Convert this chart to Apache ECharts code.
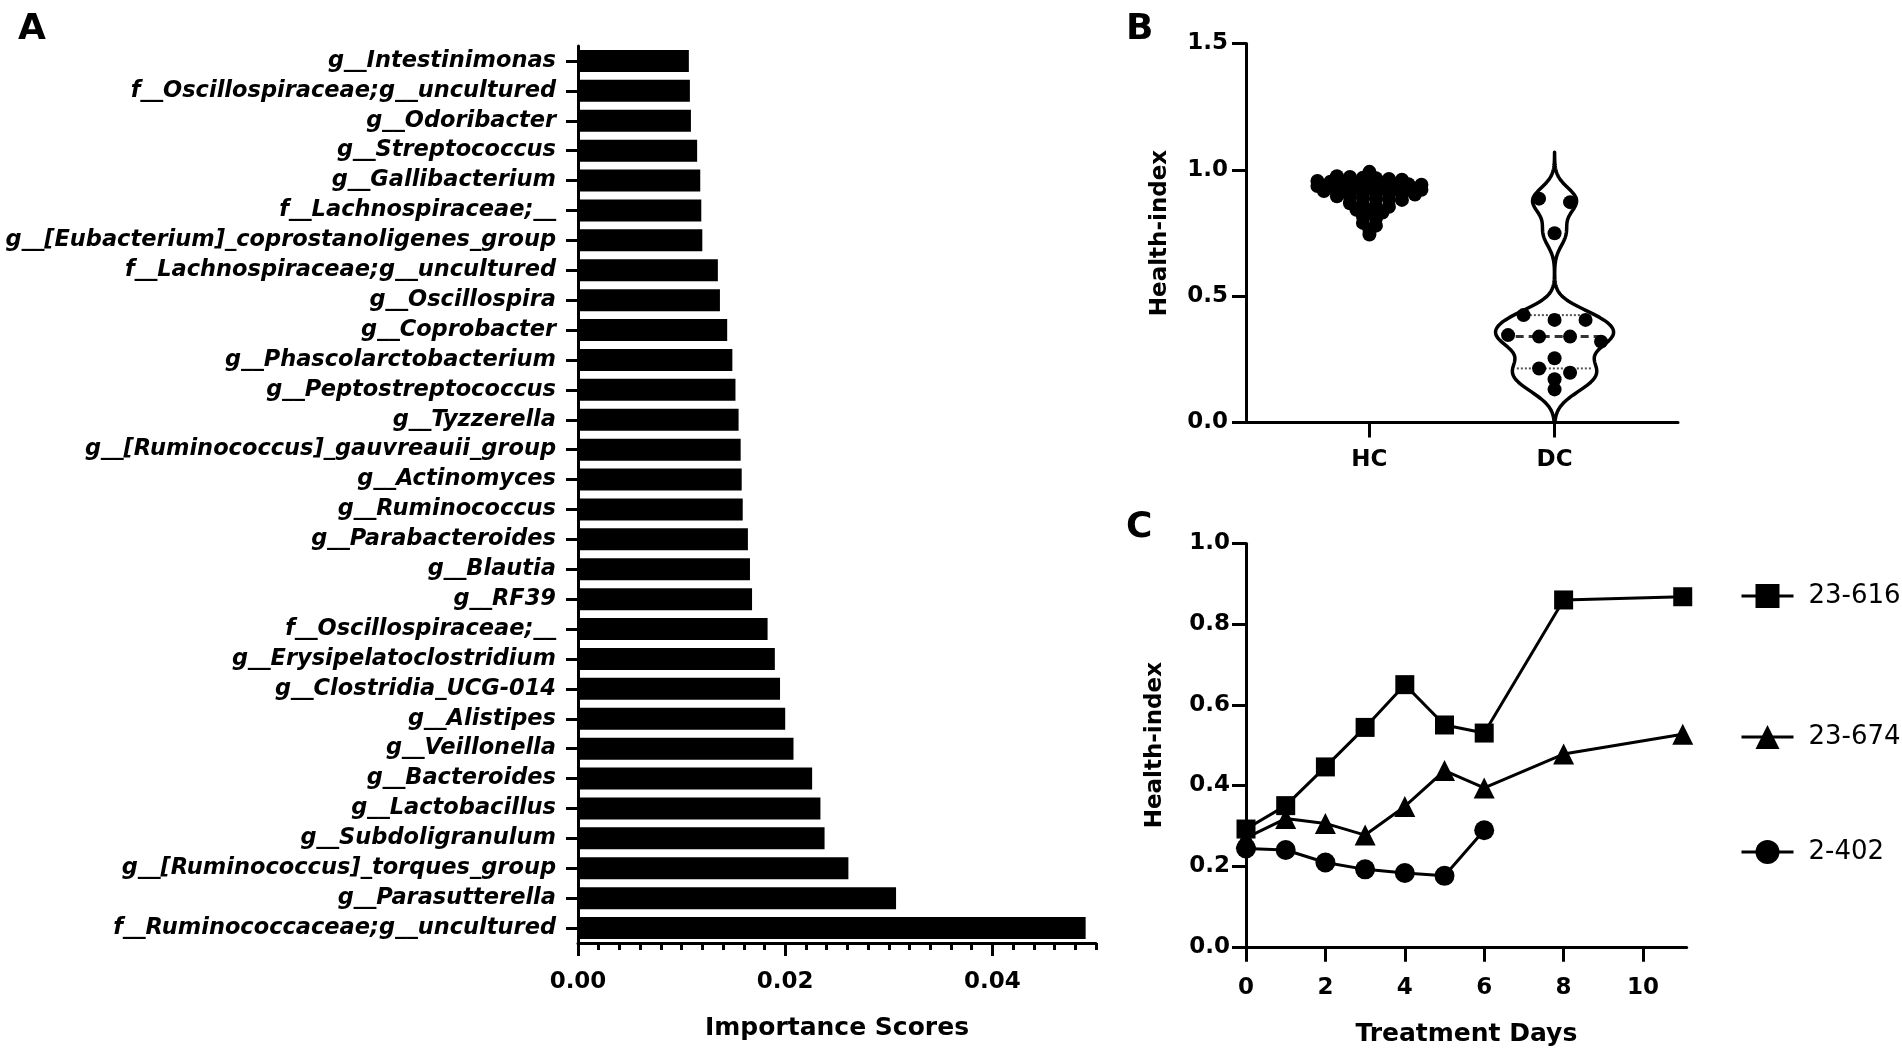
<!DOCTYPE html>
<html>
<head>
<meta charset="utf-8">
<title>Importance scores and health index</title>
<script src="https://cdn.jsdelivr.net/npm/echarts@6.0.0/dist/echarts.min.js"></script>
<style>
  html, body { margin: 0; padding: 0; background: #fff; }
  #chart { width: 1902px; height: 1055px; }
</style>
</head>
<body>
<div id="chart"></div>
<script>
// panel A - feature importance
var taxa = [
  'g__Intestinimonas',
  'f__Oscillospiraceae;g__uncultured',
  'g__Odoribacter',
  'g__Streptococcus',
  'g__Gallibacterium',
  'f__Lachnospiraceae;__',
  'g__[Eubacterium]_coprostanoligenes_group',
  'f__Lachnospiraceae;g__uncultured',
  'g__Oscillospira',
  'g__Coprobacter',
  'g__Phascolarctobacterium',
  'g__Peptostreptococcus',
  'g__Tyzzerella',
  'g__[Ruminococcus]_gauvreauii_group',
  'g__Actinomyces',
  'g__Ruminococcus',
  'g__Parabacteroides',
  'g__Blautia',
  'g__RF39',
  'f__Oscillospiraceae;__',
  'g__Erysipelatoclostridium',
  'g__Clostridia_UCG-014',
  'g__Alistipes',
  'g__Veillonella',
  'g__Bacteroides',
  'g__Lactobacillus',
  'g__Subdoligranulum',
  'g__[Ruminococcus]_torques_group',
  'g__Parasutterella',
  'f__Ruminococcaceae;g__uncultured'
];
var importance = [
  0.0107, 0.0108, 0.0109, 0.0115, 0.0118, 0.0119, 0.0120, 0.0135, 0.0137, 0.0144,
  0.0149, 0.0152, 0.0155, 0.0157, 0.0158, 0.0159, 0.0164, 0.0166, 0.0168, 0.0183,
  0.0190, 0.0195, 0.0200, 0.0208, 0.0226, 0.0234, 0.0238, 0.0261, 0.0307, 0.0490
];
var importanceLabels = [0, 0.02, 0.04];

// panel B - health index per group
var groups = ['HC', 'DC'];
var groupPos = [1, 2.5];
var hcValues = [
  0.992,
  0.975, 0.972, 0.969, 0.967, 0.964, 0.961,
  0.956, 0.953, 0.952, 0.949, 0.947, 0.946, 0.944, 0.943, 0.941,
  0.936, 0.934, 0.931, 0.930, 0.928, 0.927, 0.925, 0.923, 0.921,
  0.916, 0.914, 0.911, 0.909, 0.908, 0.905, 0.903, 0.902,
  0.895, 0.892, 0.889, 0.886, 0.883, 0.881,
  0.868, 0.863, 0.858, 0.854,
  0.842, 0.837, 0.831,
  0.815, 0.807,
  0.790, 0.779,
  0.762,
  0.744
];
var dcValues = [0.886, 0.872, 0.749, 0.425, 0.406, 0.406, 0.346, 0.340, 0.340, 0.320, 0.254, 0.214, 0.197, 0.171, 0.131];
var violinRange = [0, 1.07];

// panel C - health index over treatment
var days = [0, 1, 2, 3, 4, 5, 6, 8, 11];
var dayTicks = [0, 2, 4, 6, 8, 10];
var p23616 = [0.292, 0.350, 0.446, 0.544, 0.650, 0.550, 0.530, 0.860, 0.868];
var p23674 = [0.270, 0.318, 0.306, 0.277, 0.348, 0.437, 0.394, 0.478, 0.527];
var p2402 = [0.244, 0.240, 0.209, 0.192, 0.183, 0.176, 0.289];

var FONT = '"DejaVu Sans", sans-serif';
var gridA = {left: 578, top: 46, width: 518, height: 897};
var gridB = {left: 1246, top: 43.5, width: 432, height: 379};
var gridC = {left: 1246, top: 543.5, width: 440.7, height: 403.3};
var B_MAX_X = 3.5;
var pxPerUnitB = gridB.width / B_MAX_X;

// prism-like scatter rows: points close in value share a row, spread sideways
function swarm(values, center, binH, spacingPx) {
  var sorted = values.slice().sort(function (a, b) { return b - a; });
  var rows = [], row = null;
  sorted.forEach(function (v) {
    if (!row || row[0] - v > binH) { row = [v]; rows.push(row); }
    else row.push(v);
  });
  var out = [];
  rows.forEach(function (r) {
    r.forEach(function (v, i) {
      out.push([center + (i - (r.length - 1) / 2) * spacingPx / pxPerUnitB, v]);
    });
  });
  return out;
}

function quantile(vals, p) {
  var s = vals.slice().sort(function (a, b) { return a - b; });
  var pos = p * (s.length + 1) - 1;
  var lo = Math.floor(pos), hi = Math.ceil(pos);
  return s[lo] + (s[hi] - s[lo]) * (pos - lo);
}

// gaussian kernel density for violin outline
var BW = 0.05;
function density(y) {
  var d = 0;
  dcValues.forEach(function (v) { var z = (y - v) / BW; d += Math.exp(-0.5 * z * z); });
  return d;
}
var violinSteps = [];
for (var y = violinRange[0]; y <= violinRange[1] + 1e-9; y += 0.005) violinSteps.push(y);
var maxDens = Math.max.apply(null, violinSteps.map(density));
var VIOLIN_HALF = 59 / pxPerUnitB;
function halfWidth(y) {
  if (y <= violinRange[0] || y >= violinRange[1]) return 0;
  return density(y) / maxDens * VIOLIN_HALF;
}

var chart = echarts.init(document.getElementById('chart'));

var axisLine = {show: true, lineStyle: {color: '#000', width: 3}};
var tickStyle = {color: '#000', width: 3};
var labelStyle = {color: '#000', fontFamily: FONT, fontWeight: 'bold', fontSize: 23};
var nameStyle = {color: '#000', fontFamily: FONT, fontWeight: 'bold', fontSize: 25};

var minorTicks = [];
for (var t = 0; t <= 25; t++) minorTicks.push(+(t * 0.002).toFixed(3));

var option = {
  animation: false,
  backgroundColor: '#fff',
  graphic: [
    {type: 'text', left: 18, top: 12, style: {text: 'A', font: 'bold 36px ' + FONT, fill: '#000'}},
    {type: 'text', left: 1126, top: 12, style: {text: 'B', font: 'bold 36px ' + FONT, fill: '#000'}},
    {type: 'text', left: 1126, top: 510, style: {text: 'C', font: 'bold 36px ' + FONT, fill: '#000'}}
  ],
  grid: [gridA, gridB, gridC],
  xAxis: [
    {
      type: 'value', gridIndex: 0, min: 0, max: 0.05, interval: 0.002,
      name: 'Importance Scores', nameLocation: 'middle', nameGap: 73, nameTextStyle: nameStyle,
      axisLine: axisLine,
      axisTick: {show: true, length: 7, lineStyle: tickStyle, customValues: minorTicks},
      axisLabel: Object.assign({margin: 28, customValues: importanceLabels,
        formatter: function (v) { return v.toFixed(2); }}, labelStyle),
      splitLine: {show: false}
    },
    {
      type: 'value', gridIndex: 0, min: 0, max: 0.05, position: 'bottom', offset: 0,
      axisLine: {show: false},
      axisTick: {show: true, length: 13, lineStyle: tickStyle, customValues: importanceLabels},
      axisLabel: {show: false},
      splitLine: {show: false}
    },
    {
      type: 'value', gridIndex: 1, min: 0, max: B_MAX_X,
      axisLine: axisLine,
      axisTick: {show: true, length: 15, lineStyle: tickStyle, customValues: groupPos},
      axisLabel: Object.assign({margin: 26, customValues: groupPos,
        formatter: function (v) { return groups[groupPos.indexOf(v)] || ''; }}, labelStyle),
      splitLine: {show: false}
    },
    {
      type: 'value', gridIndex: 2, min: 0, max: 11.1,
      name: 'Treatment Days', nameLocation: 'middle', nameGap: 75, nameTextStyle: nameStyle,
      axisLine: axisLine,
      axisTick: {show: true, length: 15, lineStyle: tickStyle, customValues: dayTicks},
      axisLabel: Object.assign({margin: 30, customValues: dayTicks}, labelStyle),
      splitLine: {show: false}
    }
  ],
  yAxis: [
    {
      type: 'category', gridIndex: 0, data: taxa, inverse: true,
      axisLine: axisLine,
      axisTick: {show: true, alignWithLabel: true, length: 12, lineStyle: tickStyle},
      axisLabel: {interval: 0, margin: 22, color: '#000', fontFamily: FONT,
        fontWeight: 'bold', fontStyle: 'italic', fontSize: 22.5}
    },
    {
      type: 'value', gridIndex: 1, min: 0, max: 1.5, interval: 0.5,
      name: 'Health-index', nameLocation: 'middle', nameGap: 74,
      nameTextStyle: Object.assign({}, nameStyle, {fontSize: 23}),
      axisLine: axisLine,
      axisTick: {show: true, length: 14, lineStyle: tickStyle},
      axisLabel: Object.assign({margin: 18, formatter: function (v) { return v.toFixed(1); }}, labelStyle),
      splitLine: {show: false}
    },
    {
      type: 'value', gridIndex: 2, min: 0, max: 1, interval: 0.2,
      name: 'Health-index', nameLocation: 'middle', nameGap: 79,
      nameTextStyle: Object.assign({}, nameStyle, {fontSize: 23}),
      axisLine: axisLine,
      axisTick: {show: true, length: 14, lineStyle: tickStyle},
      axisLabel: Object.assign({margin: 16, formatter: function (v) { return v.toFixed(1); }}, labelStyle),
      splitLine: {show: false}
    }
  ],
  legend: [
    {data: ['23-616'], left: 1735, top: 578},
    {data: ['23-674'], left: 1735, top: 719},
    {data: ['2-402'], left: 1735, top: 834}
  ].map(function (l) {
    return Object.assign({
      orient: 'vertical', itemWidth: 52, itemHeight: 30,
      lineStyle: {width: 3, color: '#000'},
      textStyle: {color: '#000', fontFamily: FONT, fontSize: 26, padding: [0, 0, 0, 10]}
    }, l);
  }),
  series: [
    {
      type: 'bar', xAxisIndex: 0, yAxisIndex: 0, data: importance,
      barWidth: 22, itemStyle: {color: '#000'}
    },
    {
      type: 'custom', xAxisIndex: 2, yAxisIndex: 1, data: [[groupPos[1]]], z: 2,
      renderItem: function (params, api) {
        var cx = groupPos[1];
        var pts = [];
        violinSteps.forEach(function (y) { pts.push(api.coord([cx + halfWidth(y), y])); });
        violinSteps.slice().reverse().forEach(function (y) { pts.push(api.coord([cx - halfWidth(y), y])); });
        var children = [{
          type: 'polygon', shape: {points: pts},
          style: {fill: null, stroke: '#000', lineWidth: 3.5, lineJoin: 'round'}
        }];
        [[0.25, 2, [2, 2], '#555'], [0.5, 3, [8, 5], '#333'], [0.75, 2, [2, 2], '#555']].forEach(function (q) {
          var v = quantile(dcValues, q[0]);
          var w = halfWidth(v) * 0.9;
          var a = api.coord([cx - w, v]), b = api.coord([cx + w, v]);
          children.push({
            type: 'line', shape: {x1: a[0], y1: a[1], x2: b[0], y2: b[1]},
            style: {stroke: q[3], lineWidth: q[1], lineDash: q[2]}
          });
        });
        return {type: 'group', children: children};
      }
    },
    {
      type: 'scatter', xAxisIndex: 2, yAxisIndex: 1, z: 3,
      data: swarm(hcValues, groupPos[0], 0.016, 13),
      symbolSize: 14, itemStyle: {color: '#000', opacity: 1}
    },
    {
      type: 'scatter', xAxisIndex: 2, yAxisIndex: 1, z: 3,
      data: swarm(dcValues, groupPos[1], 0.03, 31),
      symbolSize: 14, itemStyle: {color: '#000', opacity: 1}
    },
    {
      name: '23-616', type: 'line', xAxisIndex: 3, yAxisIndex: 2,
      data: p23616.map(function (v, i) { return [days[i], v]; }),
      symbol: 'rect', symbolSize: 19,
      lineStyle: {color: '#000', width: 3}, itemStyle: {color: '#000'}
    },
    {
      name: '23-674', type: 'line', xAxisIndex: 3, yAxisIndex: 2,
      data: p23674.map(function (v, i) { return [days[i], v]; }),
      symbol: 'triangle', symbolSize: 21,
      lineStyle: {color: '#000', width: 3}, itemStyle: {color: '#000'}
    },
    {
      name: '2-402', type: 'line', xAxisIndex: 3, yAxisIndex: 2,
      data: p2402.map(function (v, i) { return [days[i], v]; }),
      symbol: 'circle', symbolSize: 20,
      lineStyle: {color: '#000', width: 3}, itemStyle: {color: '#000'}
    }
  ]
};

chart.setOption(option);
</script>
</body>
</html>
